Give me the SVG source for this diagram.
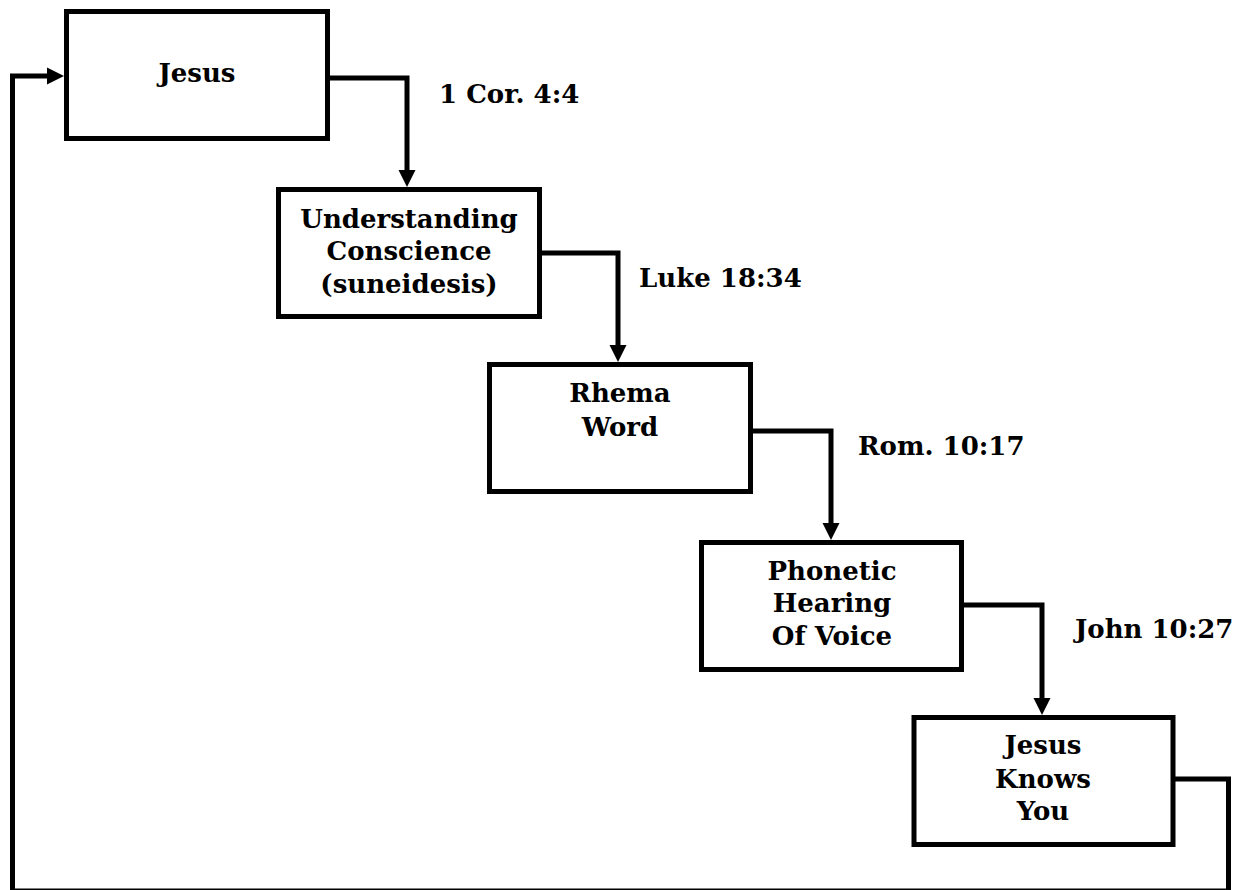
<svg xmlns="http://www.w3.org/2000/svg" width="1248" height="890" viewBox="0 0 1248 890">
<style>
.box{fill:#fff;stroke:#000;stroke-width:5}
.t{font-family:"DejaVu Serif","Liberation Serif",serif;font-weight:bold;font-size:26px;fill:#000}
.c{text-anchor:middle}
.ln{fill:none;stroke:#000;stroke-width:5;stroke-linejoin:miter}
</style>
<defs>
<marker id="ah" markerUnits="userSpaceOnUse" markerWidth="18" markerHeight="18" viewBox="0 0 18 18" refX="0" refY="9" orient="auto">
<path d="M0,0.5 L17,9 L0,17.5 Z" fill="#000"/>
</marker>
</defs>
<rect width="1248" height="890" fill="#fff"/>
<g id="connectors">
<path class="ln" d="M330,78 H407 V170" marker-end="url(#ah)"/>
<path class="ln" d="M542,253 H618 V345" marker-end="url(#ah)"/>
<path class="ln" d="M753,431 H831 V523" marker-end="url(#ah)"/>
<path class="ln" d="M964,605 H1042 V698" marker-end="url(#ah)"/>
<path class="ln" d="M1175,779 H1228.5 V891 H12.5 V76 H47" marker-end="url(#ah)"/>
</g>
<g id="n1">
<rect class="box" x="66.5" y="11.5" width="261" height="127"/>
<text class="t c" x="197" y="82">Jesus</text>
</g>
<g id="n2">
<rect class="box" x="278.5" y="189.5" width="261" height="127"/>
<text class="t c" x="409" y="228">Understanding</text>
<text class="t c" x="409" y="260">Conscience</text>
<text class="t c" x="409" y="293">(suneidesis)</text>
</g>
<g id="n3">
<rect class="box" x="489.5" y="364.5" width="261" height="127"/>
<text class="t c" x="620" y="402">Rhema</text>
<text class="t c" x="620" y="436">Word</text>
</g>
<g id="n4">
<rect class="box" x="701.5" y="542.5" width="260" height="127"/>
<text class="t c" x="832" y="580">Phonetic</text>
<text class="t c" x="832" y="612">Hearing</text>
<text class="t c" x="832" y="645">Of Voice</text>
</g>
<g id="n5">
<rect class="box" x="914" y="717.5" width="259" height="127"/>
<text class="t c" x="1043" y="754">Jesus</text>
<text class="t c" x="1043" y="788">Knows</text>
<text class="t c" x="1043" y="820">You</text>
</g>
<g id="labels">
<text class="t" x="439" y="103">1 Cor. 4:4</text>
<text class="t" x="639" y="287">Luke 18:34</text>
<text class="t" x="858" y="455">Rom. 10:17</text>
<text class="t" x="1075" y="638">John 10:27</text>
</g>
</svg>
